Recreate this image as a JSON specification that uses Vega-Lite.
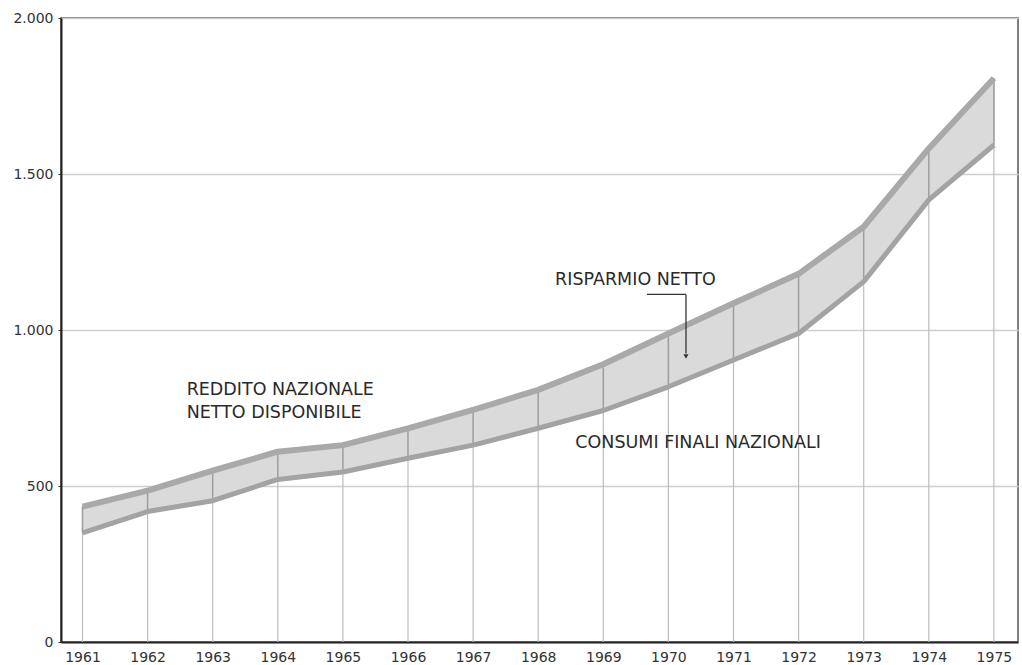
{
  "$schema": "https://vega.github.io/schema/vega-lite/v6.json",
  "width": 957,
  "height": 624,
  "autosize": {"type": "none"},
  "padding": {"left": 61, "top": 18, "right": 4, "bottom": 23},
  "background": "white",
  "config": {
    "view": {"stroke": "#555", "strokeWidth": 1.5},
    "axis": {"labelFont": "DejaVu Sans", "labelColor": "#333", "title": null}
  },
  "datasets": {
    "serie": [
      {"anno": 1961, "reddito": 434, "consumi": 350},
      {"anno": 1962, "reddito": 485, "consumi": 418},
      {"anno": 1963, "reddito": 549, "consumi": 453},
      {"anno": 1964, "reddito": 610, "consumi": 521},
      {"anno": 1965, "reddito": 631, "consumi": 545},
      {"anno": 1966, "reddito": 685, "consumi": 589},
      {"anno": 1967, "reddito": 744, "consumi": 631},
      {"anno": 1968, "reddito": 808, "consumi": 685},
      {"anno": 1969, "reddito": 890, "consumi": 742},
      {"anno": 1970, "reddito": 989, "consumi": 818},
      {"anno": 1971, "reddito": 1086, "consumi": 904},
      {"anno": 1972, "reddito": 1180, "consumi": 989},
      {"anno": 1973, "reddito": 1331, "consumi": 1155},
      {"anno": 1974, "reddito": 1582, "consumi": 1417},
      {"anno": 1975, "reddito": 1807, "consumi": 1593}
    ],
    "etichette": [
      {"x": 1962.6, "y": 792, "testo": "REDDITO NAZIONALE"},
      {"x": 1962.6, "y": 718, "testo": "NETTO DISPONIBILE"},
      {"x": 1968.26, "y": 1144, "testo": "RISPARMIO NETTO"},
      {"x": 1968.57, "y": 622, "testo": "CONSUMI FINALI NAZIONALI"}
    ],
    "freccia": [
      {"x1": 1969.67, "y1": 1114, "x2": 1970.27, "y2": 1114},
      {"x1": 1970.27, "y1": 1114, "x2": 1970.27, "y2": 925}
    ],
    "punta": [
      {"x": 1970.27, "y": 915}
    ]
  },
  "layer": [
    {
      "data": {"name": "serie"},
      "mark": {"type": "rule", "color": "#bdbdbd", "strokeWidth": 1.2},
      "encoding": {
        "x": {
          "field": "anno", "type": "quantitative",
          "scale": {"domain": [1960.67, 1975.37], "nice": false, "zero": false},
          "axis": {
            "values": [1961, 1962, 1963, 1964, 1965, 1966, 1967, 1968, 1969, 1970, 1971, 1972, 1973, 1974, 1975],
            "format": "d", "labelFontSize": 14, "ticks": false, "grid": false,
            "domainColor": "#222", "domainWidth": 2, "labelPadding": 8, "labelFlush": false
          }
        },
        "y": {
          "field": "reddito", "type": "quantitative",
          "scale": {"domain": [0, 2000], "nice": false},
          "axis": {
            "values": [0, 500, 1000, 1500, 2000],
            "labelExpr": "replace(format(datum.value, ','), ',', '.')",
            "labelFontSize": 14, "grid": true, "gridColor": "#cfcfcf", "gridWidth": 1.5,
            "ticks": true, "tickSize": 3, "tickColor": "#333", "labelPadding": 5,
            "domainColor": "#222", "domainWidth": 2
          }
        },
        "y2": {"datum": 0}
      }
    },
    {
      "data": {"name": "serie"},
      "mark": {"type": "area", "color": "#dadada", "opacity": 1},
      "encoding": {
        "x": {"field": "anno", "type": "quantitative"},
        "y": {"field": "reddito", "type": "quantitative"},
        "y2": {"field": "consumi"}
      }
    },
    {
      "data": {"name": "serie"},
      "mark": {"type": "rule", "color": "#9e9e9e", "strokeWidth": 1.5},
      "encoding": {
        "x": {"field": "anno", "type": "quantitative"},
        "y": {"field": "consumi", "type": "quantitative"},
        "y2": {"field": "reddito"}
      }
    },
    {
      "data": {"name": "serie"},
      "mark": {"type": "line", "color": "#a9a9a9", "strokeWidth": 6, "strokeJoin": "round"},
      "encoding": {
        "x": {"field": "anno", "type": "quantitative"},
        "y": {"field": "reddito", "type": "quantitative"}
      }
    },
    {
      "data": {"name": "serie"},
      "mark": {"type": "line", "color": "#a3a3a3", "strokeWidth": 5, "strokeJoin": "round"},
      "encoding": {
        "x": {"field": "anno", "type": "quantitative"},
        "y": {"field": "consumi", "type": "quantitative"}
      }
    },
    {
      "data": {"name": "freccia"},
      "mark": {"type": "rule", "color": "#333", "strokeWidth": 1.3},
      "encoding": {
        "x": {"field": "x1", "type": "quantitative"},
        "y": {"field": "y1", "type": "quantitative"},
        "x2": {"field": "x2"},
        "y2": {"field": "y2"}
      }
    },
    {
      "data": {"name": "punta"},
      "mark": {"type": "point", "shape": "triangle-down", "filled": true, "color": "#333", "size": 25, "opacity": 1},
      "encoding": {
        "x": {"field": "x", "type": "quantitative"},
        "y": {"field": "y", "type": "quantitative"}
      }
    },
    {
      "data": {"name": "etichette"},
      "mark": {"type": "text", "align": "left", "baseline": "alphabetic", "font": "DejaVu Sans", "fontSize": 17.5, "color": "#2a2a2a"},
      "encoding": {
        "x": {"field": "x", "type": "quantitative"},
        "y": {"field": "y", "type": "quantitative"},
        "text": {"field": "testo"}
      }
    }
  ]
}
